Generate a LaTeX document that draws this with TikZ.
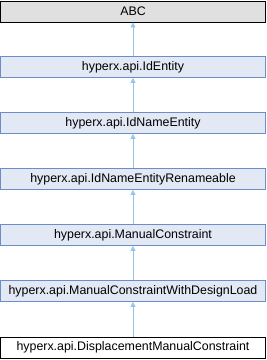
\documentclass[tikz,border=0pt]{standalone}
\usepackage{fontspec}
\setmainfont{Liberation Sans}
\usetikzlibrary{arrows.meta}
\definecolor{boxfill}{HTML}{E2E8F4}
\definecolor{boxline}{HTML}{6C8EC6}
\definecolor{basefill}{HTML}{E0E0E0}
\definecolor{edgeblue}{HTML}{93C6E6}
\begin{document}
\begin{tikzpicture}[x=1pt, y=-1pt,
        cls/.style={draw=boxline, fill=boxfill, line width=0.9pt, minimum width=265pt, minimum height=21pt,
            inner sep=0pt, font=\fontsize{12.4}{14}\selectfont},
        base/.style={cls, draw=black, fill=basefill},
        leaf/.style={cls, draw=black, fill=white},
        inherit/.style={draw=edgeblue, line width=0.8pt, -{Triangle[width=5pt, length=5pt]}}]
        % Page size
        \useasboundingbox (0,0) rectangle (266,360);

        % Class boxes, top to bottom
        \node[base] (abc) at (133,11.5) {ABC};
        \node[cls] (identity) at (133,67) {hyperx.api.IdEntity};
        \node[cls] (idname) at (133,123) {hyperx.api.IdNameEntity};
        \node[cls] (renameable) at (133,179) {hyperx.api.IdNameEntityRenameable};
        \node[cls] (manual) at (133,235) {hyperx.api.ManualConstraint};
        \node[cls] (designload) at (133,291) {hyperx.api.ManualConstraintWithDesignLoad};
        \node[leaf] (displacement) at (133,347.5) {hyperx.api.DisplacementManualConstraint};

        %Inheritance arrows
        \draw[inherit] (identity) -- (abc);
        \draw[inherit] (idname) -- (identity);
        \draw[inherit] (renameable) -- (idname);
        \draw[inherit] (manual) -- (renameable);
        \draw[inherit] (designload) -- (manual);
        \draw[inherit] (displacement) -- (designload);
\end{tikzpicture}
\end{document}
